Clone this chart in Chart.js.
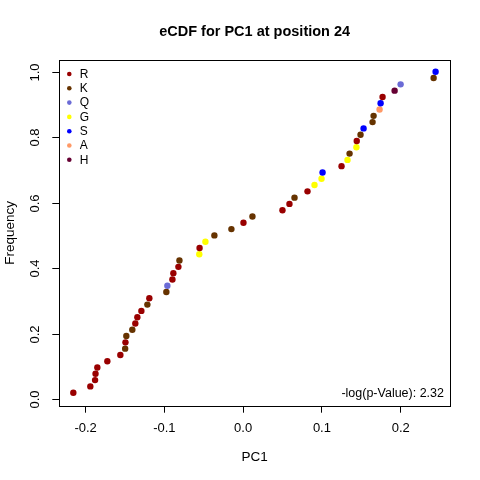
<!DOCTYPE html>
<html>
<head>
<meta charset="utf-8">
<script src="https://cdn.jsdelivr.net/npm/chart.js@4"></script>
<style>
  html, body { margin: 0; padding: 0; background: #fff; }
  #wrap { width: 480px; height: 480px; }
</style>
</head>
<body>
<div id="wrap"><canvas id="ecdfChart" width="480" height="480"></canvas></div>
<script>
// PC1 values at position 24, sorted, with the residue of each point
const pc1Values = [
  -0.2156, -0.1940, -0.1880, -0.1874, -0.1851, -0.1724, -0.1559, -0.1498, -0.1494, -0.1483,
  -0.1407, -0.1369, -0.1343, -0.1292, -0.1216, -0.1191, -0.0975, -0.0962, -0.0898, -0.0886,
  -0.0822, -0.0809, -0.0557, -0.0553, -0.0479, -0.0365, -0.0149, 0.0004, 0.0118, 0.0499,
  0.0588, 0.0652, 0.0817, 0.0906, 0.0995, 0.1008, 0.1249, 0.1325, 0.1351, 0.1438,
  0.1442, 0.1490, 0.1529, 0.1643, 0.1656, 0.1732, 0.1745, 0.1770, 0.1923, 0.1999,
  0.2418, 0.2443
];
const pointResidues = [
  'R', 'R', 'R', 'R', 'R', 'R', 'R', 'K', 'R', 'K',
  'K', 'R', 'R', 'R', 'K', 'R', 'K', 'Q', 'R', 'R',
  'R', 'K', 'G', 'R', 'G', 'K', 'K', 'R', 'K', 'R',
  'R', 'K', 'R', 'G', 'G', 'S', 'R', 'G', 'K', 'G',
  'R', 'K', 'S', 'K', 'K', 'A', 'S', 'R', 'H', 'Q',
  'K', 'S'
];

const residues = ['R', 'K', 'Q', 'G', 'S', 'A', 'H'];
const residueColors = ['#990000', '#663300', '#6b6bd6', '#ffff00', '#0000ff', '#ff9966', '#660033'];

const xTicks = [-0.2, -0.1, 0.0, 0.1, 0.2];
const yTicks = [0.0, 0.2, 0.4, 0.6, 0.8, 1.0];

const chartTitle = 'eCDF for PC1 at position 24';
const xTitle = 'PC1';
const yTitle = 'Frequency';
const statLabel = '-log(p-Value): 2.32';

// empirical cdf: rank / n of the sorted values
const n = pc1Values.length;
const points = pc1Values.map((v, i) => ({ x: v, y: (i + 1) / n }));
const pointColors = pointResidues.map(r => residueColors[residues.indexOf(r)]);

const FONT = '"Liberation Sans", Arial, sans-serif';

const rDecor = {
  id: 'rDecor',
  afterDraw(chart) {
    const { ctx, chartArea: a, scales } = chart;
    ctx.save();

    // box
    ctx.strokeStyle = '#000';
    ctx.lineWidth = 1;
    ctx.strokeRect(Math.round(a.left) + 0.5, Math.round(a.top) + 0.5,
      Math.round(a.right - a.left), Math.round(a.bottom - a.top));

    // y tick marks and rotated labels
    ctx.fillStyle = '#000';
    ctx.font = '13px ' + FONT;
    ctx.textAlign = 'center';
    ctx.textBaseline = 'middle';
    yTicks.forEach(v => {
      const y = Math.round(scales.y.getPixelForValue(v)) + 0.5;
      ctx.beginPath();
      ctx.moveTo(a.left - 7, y);
      ctx.lineTo(a.left, y);
      ctx.stroke();
      ctx.save();
      ctx.translate(a.left - 24, y);
      ctx.rotate(-Math.PI / 2);
      ctx.fillText(v.toFixed(1), 0, 0);
      ctx.restore();
    });

    // title
    ctx.font = 'bold 14.5px ' + FONT;
    ctx.fillText(chartTitle, (a.left + a.right) / 2, 32);

    // axis titles
    ctx.font = '13.5px ' + FONT;
    ctx.fillText(xTitle, (a.left + a.right) / 2, 457);
    ctx.save();
    ctx.translate(10, (a.top + a.bottom) / 2);
    ctx.rotate(-Math.PI / 2);
    ctx.fillText(yTitle, 0, 0);
    ctx.restore();

    // stat label
    ctx.font = '12.5px ' + FONT;
    ctx.textAlign = 'right';
    ctx.fillText(statLabel, a.right - 6, a.bottom - 12);

    // legend
    ctx.font = '12px ' + FONT;
    ctx.textAlign = 'left';
    residues.forEach((r, i) => {
      const y = a.top + 14 + i * 14.3;
      ctx.fillStyle = residueColors[i];
      ctx.beginPath();
      ctx.arc(a.left + 10, y, 2.3, 0, Math.PI * 2);
      ctx.fill();
      ctx.fillStyle = '#000';
      ctx.fillText(r, a.left + 20.5, y + 0.5);
    });

    ctx.restore();
  }
};

new Chart(document.getElementById('ecdfChart'), {
  type: 'scatter',
  data: {
    datasets: [{
      label: 'eCDF',
      data: points,
      pointBackgroundColor: pointColors,
      pointBorderColor: pointColors,
      pointBorderWidth: 0,
      pointRadius: 3.2,
      pointHoverRadius: 3.2
    }]
  },
  options: {
    responsive: false,
    animation: false,
    devicePixelRatio: 1,
    layout: { padding: { left: 0, top: 60, right: 30, bottom: 0 } },
    plugins: {
      legend: { display: false },
      tooltip: { enabled: false },
      title: { display: false }
    },
    scales: {
      x: {
        type: 'linear',
        min: -0.2334,
        max: 0.2626,
        afterBuildTicks: s => { s.ticks = xTicks.map(v => ({ value: v })); },
        afterFit: s => { s.height = 74.3; },
        border: { display: false },
        grid: { drawOnChartArea: false, drawTicks: true, tickLength: 7, color: '#000' },
        ticks: {
          color: '#000',
          font: { family: FONT, size: 13 },
          padding: 8,
          maxRotation: 0,
          callback: v => v.toFixed(1)
        }
      },
      y: {
        type: 'linear',
        min: -0.0205,
        max: 1.036,
        afterBuildTicks: s => { s.ticks = yTicks.map(v => ({ value: v })); },
        afterFit: s => { s.width = 59.3; },
        border: { display: false },
        grid: { display: false },
        ticks: { display: false }
      }
    }
  },
  plugins: [rDecor]
});
</script>
</body>
</html>
